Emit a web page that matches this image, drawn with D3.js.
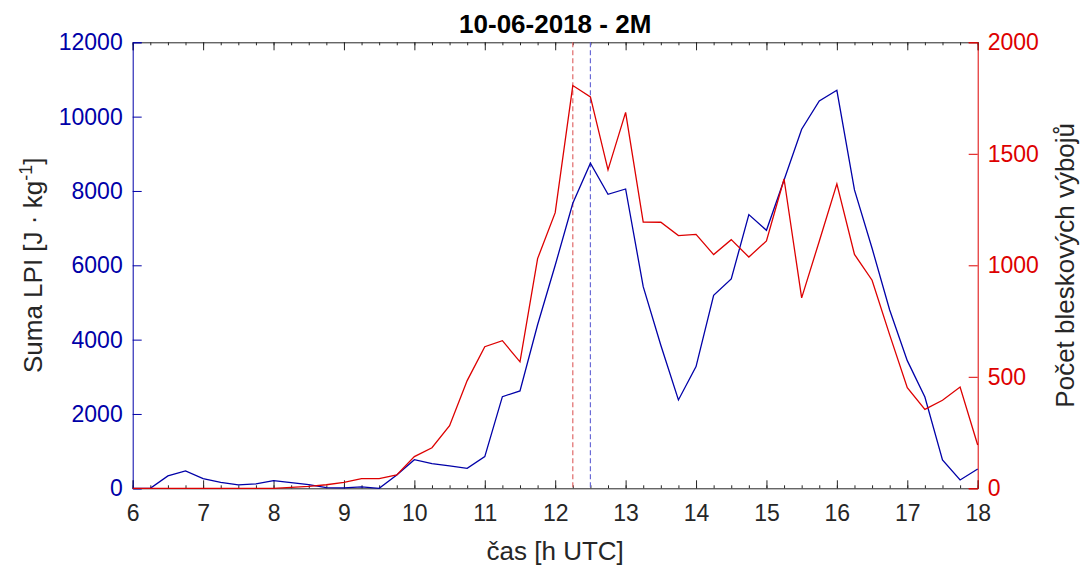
<!DOCTYPE html>
<html>
<head>
<meta charset="utf-8">
<script src="https://cdn.jsdelivr.net/npm/d3@7"></script>
<style>
  body { margin: 0; background: #fff; }
  svg text { font-family: "Liberation Sans", Arial, sans-serif; }
</style>
</head>
<body>
<div id="chart"></div>
<script>
const margin = { top: 42.3, bottom: 76.7, left: 132.7, right: 105.3 };
const W = 1083, H = 565;

// time in hours UTC, 15-min steps
const hours = [6, 6.25, 6.5, 6.75, 7, 7.25, 7.5, 7.75, 8, 8.25, 8.5, 8.75, 9, 9.25, 9.5, 9.75,
  10, 10.25, 10.5, 10.75, 11, 11.25, 11.5, 11.75, 12, 12.25, 12.5, 12.75, 13, 13.25, 13.5, 13.75,
  14, 14.25, 14.5, 14.75, 15, 15.25, 15.5, 15.75, 16, 16.25, 16.5, 16.75, 17, 17.25, 17.5, 17.75, 18];

// Suma LPI [J kg^-1]
const lpi = [0, 0, 332, 466, 260, 161, 90, 117, 206, 152, 99, 18, 9, 36, 0, 359,
  771, 664, 601, 538, 852, 2466, 2619, 4400, 6000, 7668, 8745, 7911, 8054, 5426, 3850, 2377,
  3274, 5193, 5633, 7364, 6942, 8296, 9660, 10422, 10709, 8027, 6458, 4798, 3435, 2457, 762, 224, 520];

// Pocet bleskovych vyboju
const flashes = [0, 0, 0, 0, 0, 0, 0, 0, 0, 4, 9, 16, 27, 43, 43, 60,
  142, 182, 281, 483, 635, 662, 567, 1030, 1236, 1806, 1755, 1428, 1686, 1194, 1193, 1133,
  1139, 1048, 1115, 1037, 1109, 1387, 854, 1108, 1365, 1049, 933, 688, 451, 354, 395, 454, 194];

const xTicks = [6, 7, 8, 9, 10, 11, 12, 13, 14, 15, 16, 17, 18];
const lpiTicks = [0, 2000, 4000, 6000, 8000, 10000, 12000];
const flashTicks = [0, 500, 1000, 1500, 2000];

// dashed markers
const peakTimes = [12.25, 12.5];
const peakColors = ["#e06a6a", "#6a6ad6"];

const blue = "#0000a8";
const red = "#dd0000";
const axisGrey = "#262626";

const w = W - margin.left - margin.right;
const h = H - margin.top - margin.bottom;

const svg = d3.select("#chart").append("svg")
  .attr("width", W)
  .attr("height", H);

const g = svg.append("g").attr("transform", `translate(${margin.left},${margin.top})`);

const x = d3.scaleLinear().domain([6, 18]).range([0, w]);
const yL = d3.scaleLinear().domain([0, 12000]).range([h, 0]);
const yR = d3.scaleLinear().domain([0, 2000]).range([h, 0]);

// minor x ticks (15 min), top and bottom
const minor = d3.range(6, 18.001, 0.25);
g.append("g").attr("transform", `translate(0,${h})`)
  .call(d3.axisBottom(x).tickValues(minor).tickSize(-3).tickFormat(""))
  .call(a => a.select(".domain").remove())
  .call(a => a.selectAll("line").attr("stroke", axisGrey));
g.append("g")
  .call(d3.axisTop(x).tickValues(minor).tickSize(-3).tickFormat(""))
  .call(a => a.select(".domain").remove())
  .call(a => a.selectAll("line").attr("stroke", axisGrey));

// major x ticks
g.append("g").attr("transform", `translate(0,${h})`)
  .call(d3.axisBottom(x).tickValues(xTicks).tickSize(-8).tickPadding(16).tickFormat(d3.format("d")))
  .call(a => a.select(".domain").attr("stroke", axisGrey))
  .call(a => a.selectAll("line").attr("stroke", axisGrey))
  .call(a => a.selectAll("text").attr("font-size", 23).attr("fill", axisGrey).attr("font-family", "Liberation Sans"));
g.append("g")
  .call(d3.axisTop(x).tickValues(xTicks).tickSize(-8).tickFormat(""))
  .call(a => a.select(".domain").attr("stroke", axisGrey))
  .call(a => a.selectAll("line").attr("stroke", axisGrey));

// left axis
g.append("g")
  .call(d3.axisLeft(yL).tickValues(lpiTicks).tickSize(-9).tickPadding(10).tickFormat(d3.format("d")))
  .call(a => a.select(".domain").attr("stroke", blue))
  .call(a => a.selectAll("line").attr("stroke", blue))
  .call(a => a.selectAll("text").attr("font-size", 23).attr("fill", blue).attr("font-family", "Liberation Sans"));

// right axis
g.append("g").attr("transform", `translate(${w},0)`)
  .call(d3.axisRight(yR).tickValues(flashTicks).tickSize(-9).tickPadding(10).tickFormat(d3.format("d")))
  .call(a => a.select(".domain").attr("stroke", red))
  .call(a => a.selectAll("line").attr("stroke", red))
  .call(a => a.selectAll("text").attr("font-size", 23).attr("fill", red).attr("font-family", "Liberation Sans"));

// dashed lines
g.selectAll(".peak").data(peakTimes).enter().append("line")
  .attr("x1", d => x(d)).attr("x2", d => x(d))
  .attr("y1", 0).attr("y2", h)
  .attr("stroke", (d, i) => peakColors[i])
  .attr("stroke-width", 1.2)
  .attr("stroke-dasharray", "5,3");

// series
const lineL = d3.line().x((d, i) => x(hours[i])).y(d => yL(d));
const lineR = d3.line().x((d, i) => x(hours[i])).y(d => yR(d));

g.append("path").datum(lpi)
  .attr("fill", "none").attr("stroke", blue).attr("stroke-width", 1.3)
  .attr("d", lineL);
g.append("path").datum(flashes)
  .attr("fill", "none").attr("stroke", red).attr("stroke-width", 1.3)
  .attr("d", lineR);

// title
svg.append("text")
  .attr("x", margin.left + w / 2).attr("y", 33)
  .attr("text-anchor", "middle")
  .attr("font-size", 26).attr("font-weight", "bold")
  .attr("fill", "#000")
  .text("10-06-2018 - 2M");

// x label
svg.append("text")
  .attr("x", margin.left + w / 2).attr("y", 560)
  .attr("text-anchor", "middle")
  .attr("font-size", 26).attr("fill", axisGrey)
  .text("čas [h UTC]");

// left y label
const yl = svg.append("text")
  .attr("transform", `translate(42,${margin.top + h / 2}) rotate(-90)`)
  .attr("text-anchor", "middle")
  .attr("font-size", 26).attr("fill", axisGrey);
yl.append("tspan").text("Suma LPI [J · kg");
yl.append("tspan").attr("font-size", 18).attr("dy", -10).text("-1");
yl.append("tspan").attr("dy", 10).text("]");

// right y label
svg.append("text")
  .attr("transform", `translate(1074,${margin.top + h / 2}) rotate(-90)`)
  .attr("text-anchor", "middle")
  .attr("font-size", 26).attr("fill", axisGrey)
  .text("Počet bleskových výbojů");
</script>
</body>
</html>
